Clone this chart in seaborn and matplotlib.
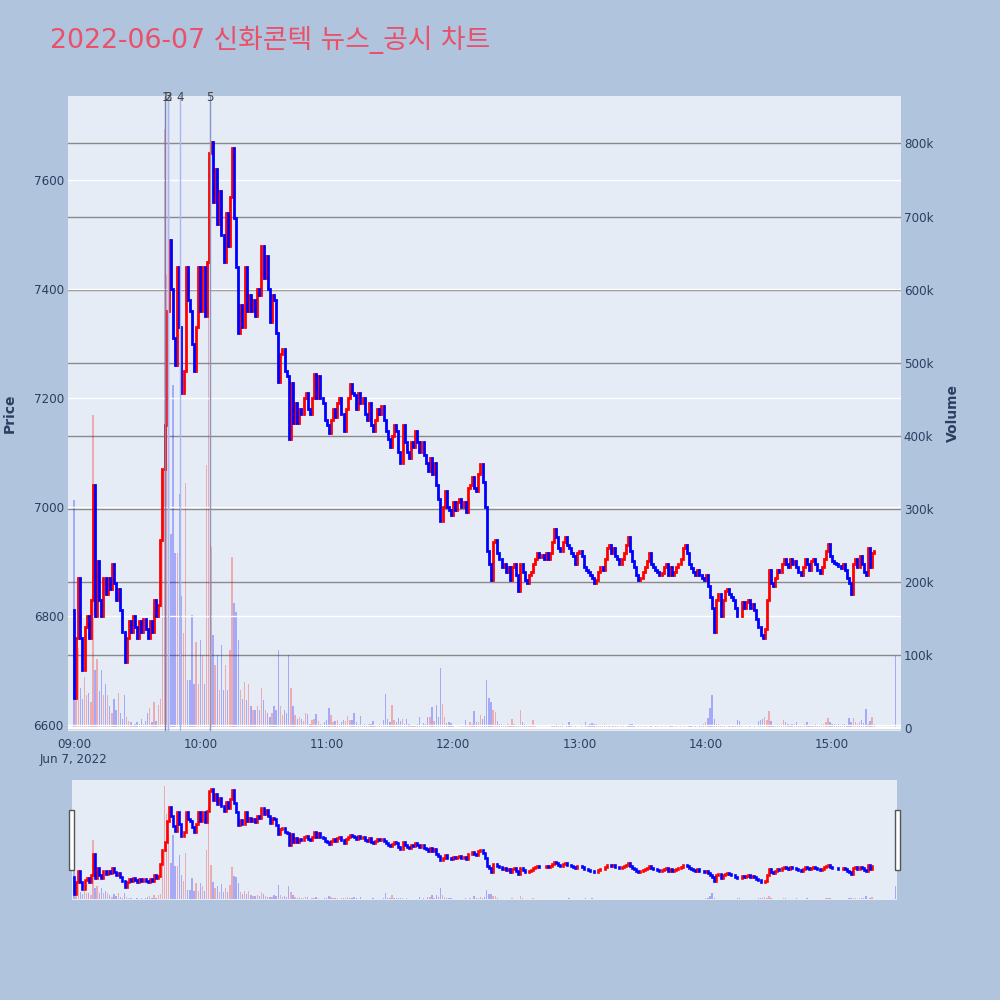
import numpy as np
import pandas as pd
import matplotlib
matplotlib.use("Agg")
import matplotlib.pyplot as plt
import matplotlib.transforms as mtransforms
from matplotlib.patches import Rectangle
import seaborn as sns

# ---- data (1-minute bars from 09:00, prices in KRW, volume in thousands) ----
first_open = 6810
closes = [
    6650, 6760, 6870, 6760, 6700, 6780, 6800, 6760, 6830, 7040,
    6800, 6900, 6830, 6800, 6870, 6840, 6870, 6850, 6895, 6860,
    6830, 6850, 6810, 6770, 6715, 6760, 6790, 6770, 6800, 6780,
    6760, 6790, 6770, 6795, 6775, 6760, 6790, 6770, 6830, 6800,
    6820, 6940, 7070, 7150, 7360, 7490, 7400, 7310, 7260, 7440,
    7330, 7210, 7250, 7440, 7380, 7360, 7300, 7250, 7330, 7440,
    7360, 7440, 7350, 7450, 7650, 7670, 7560, 7620, 7520, 7580,
    7500, 7450, 7540, 7480, 7570, 7660, 7530, 7440, 7320, 7370,
    7330, 7440, 7360, 7390, 7360, 7380, 7350, 7400, 7390, 7480,
    7420, 7460, 7400, 7340, 7390, 7380, 7320, 7230, 7280, 7290,
    7250, 7240, 7125, 7228, 7155, 7190, 7155, 7180, 7170, 7200,
    7210, 7180, 7170, 7200, 7245, 7200, 7240, 7200, 7190, 7160,
    7150, 7135, 7160, 7180, 7165, 7190, 7200, 7170, 7140, 7180,
    7200, 7225, 7210, 7205, 7180, 7210, 7190, 7200, 7170, 7160,
    7190, 7150, 7140, 7160, 7180, 7170, 7185, 7160, 7140, 7125,
    7110, 7130, 7150, 7140, 7100, 7080, 7150, 7120, 7100, 7090,
    7120, 7110, 7140, 7120, 7100, 7120, 7095, 7080, 7066, 7090,
    7060, 7080, 7040, 7015, 6975, 7000, 7030, 7000, 6995, 6985,
    7010, 6995, 7010, 7015, 7000, 7010, 6990, 7035, 7040, 7055,
    7035, 7030, 7060, 7078, 7045, 7000, 6920, 6895, 6865, 6935,
    6940, 6915, 6905, 6890, 6895, 6880, 6890, 6865, 6890, 6895,
    6875, 6845, 6895, 6880, 6865, 6860, 6875, 6880, 6895, 6905,
    6915, 6908, 6912, 6905, 6915, 6905, 6915, 6935, 6960, 6945,
    6925, 6920, 6935, 6945, 6930, 6925, 6915, 6910, 6895, 6915,
    6920, 6910, 6890, 6885, 6880, 6875, 6870, 6860, 6865, 6880,
    6890, 6885, 6905, 6925, 6930, 6915, 6925, 6910, 6905, 6895,
    6905, 6915, 6930, 6945, 6920, 6900, 6890, 6875, 6865, 6870,
    6880, 6890, 6900, 6915, 6895, 6890, 6885, 6880, 6875, 6878,
    6890, 6895, 6875, 6890, 6875, 6880, 6890, 6895, 6905, 6925,
    6930, 6915, 6895, 6888, 6880, 6875, 6885, 6875, 6870, 6865,
    6875, 6855, 6835, 6815, 6770, 6830, 6840, 6800, 6830, 6845,
    6850, 6840, 6835, 6830, 6815, 6800, 6800, 6825, 6815, 6825,
    6830, 6815, 6822, 6810, 6795, 6780, 6765, 6760, 6775, 6830,
    6885, 6860, 6855, 6870, 6885, 6880, 6895, 6905, 6895, 6890,
    6905, 6895, 6900, 6890, 6880, 6875, 6890, 6905, 6895, 6885,
    6900, 6905, 6895, 6885, 6878, 6890, 6905, 6920, 6932, 6910,
    6900, 6898, 6895, 6892, 6888, 6895, 6885, 6870, 6860, 6840,
    6895, 6905, 6890, 6910, 6895, 6880, 6875, 6925, 6890, 6915,
    6920,
]
volumes = [
    312, 70, 110, 55, 40, 70, 45, 48, 35, 428,
    80, 95, 50, 80, 45, 60, 45, 30, 20, 40,
    25, 48, 20, 12, 45, 15, 10, 8, 4, 5,
    8, 5, 12, 5, 10, 20, 28, 8, 35, 10,
    32, 40, 300, 820, 620, 470, 265, 470, 240, 240,
    320, 180, 130, 335, 66, 66, 154, 60, 118, 60,
    120, 100, 60, 360, 780, 248, 127, 86, 100, 52,
    113, 52, 86, 52, 107, 234, 171, 159, 120, 52,
    40, 63, 38, 60, 30, 25, 25, 30, 25, 55,
    38, 25, 20, 15, 20, 30, 25, 107, 30, 18,
    25, 20, 100, 55, 30, 18, 12, 15, 12, 10,
    20, 19, 6, 11, 13, 19, 10, 6, 4, 8,
    11, 27, 18, 8, 10, 11, 6, 8, 11, 9,
    16, 11, 11, 20, 8, 6, 17, 4, 5, 4,
    6, 5, 10, 3, 4, 6, 4, 11, 47, 13,
    8, 32, 11, 8, 14, 10, 12, 5, 13, 6,
    4, 4, 3, 5, 15, 4, 7, 5, 15, 15,
    29, 10, 32, 15, 82, 33, 15, 7, 8, 7,
    3, 1, 1, 2, 3, 4, 11, 4, 8, 5,
    23, 8, 8, 18, 13, 17, 66, 41, 36, 25,
    22, 9, 5, 6, 4, 4, 6, 3, 13, 6,
    4, 3, 25, 8, 6, 4, 3, 3, 11, 3,
    2, 1, 1, 1, 2, 1, 2, 3, 4, 6,
    3, 3, 6, 2, 4, 8, 3, 2, 3, 2,
    2, 3, 1, 8, 4, 6, 7, 5, 6, 4,
    3, 4, 5, 3, 4, 2, 3, 4, 3, 2,
    3, 4, 2, 3, 5, 6, 3, 2, 4, 3,
    2, 3, 4, 2, 3, 2, 3, 4, 2, 3,
    2, 3, 2, 4, 3, 2, 3, 2, 3, 2,
    3, 2, 4, 3, 2, 3, 2, 3, 4, 5,
    8, 14, 27, 45, 12, 6, 5, 3, 4, 3,
    2, 3, 2, 3, 4, 11, 10, 3, 2, 3,
    2, 3, 2, 3, 2, 9, 11, 13, 15, 11,
    23, 9, 4, 3, 5, 4, 6, 11, 8, 5,
    4, 6, 5, 8, 4, 3, 4, 5, 8, 4,
    3, 4, 5, 3, 4, 5, 6, 8, 14, 8,
    6, 5, 4, 6, 4, 5, 6, 4, 14, 8,
    14, 8, 6, 8, 11, 7, 26, 5, 10, 15,
    6,
]
# closing auction at 15:30
auction_minute = 390
auction_price = 6900
auction_volume = 98

# news / disclosure markers (minutes after 09:00)
news_minutes = [43.3, 44.6, 44.8, 50.3, 64.4]
news_labels = ["1", "2", "3", "4", "5"]
news_colors = ["#7d7fb4", "#9aa6e6", "#aab8f2", "#aab8f2", "#8797c4"]

tick_minutes = [0, 60, 120, 180, 240, 300, 360]
tick_labels = ["09:00\nJun 7, 2022", "10:00", "11:00", "12:00", "13:00", "14:00", "15:00"]
price_ticks = [6600, 6800, 7000, 7200, 7400, 7600]
volume_ticks = [0, 100, 200, 300, 400, 500, 600, 700, 800]
volume_tick_labels = ["0", "100k", "200k", "300k", "400k", "500k", "600k", "700k", "800k"]

title = "2022-06-07 신화콘텍 뉴스_공시 차트"

# ---- table ----
df = pd.DataFrame({
    "minute": np.arange(len(closes)),
    "open": [first_open] + closes[:-1],
    "close": closes,
    "volume": volumes,
})
df = pd.concat([df, pd.DataFrame({"minute": [auction_minute], "open": [auction_price],
                                  "close": [auction_price], "volume": [auction_volume]})],
               ignore_index=True)
df["dir"] = np.where(df["close"] > df["open"], "up", "down")
df["lo"] = df[["open", "close"]].min(axis=1)
df["hi"] = df[["open", "close"]].max(axis=1)

RED, BLUE = "#FF0000", "#0000FF"
BG, PLOT_BG = "#B0C4DE", "#E5ECF6"
TXT = "#2a3f5f"

sns.set_theme(style="white")
plt.rcParams["font.family"] = ["DejaVu Sans", "Noto Sans CJK KR"]

fig = plt.figure(figsize=(10, 10), dpi=100)
fig.patch.set_facecolor(BG)


def rect(x0, y0, x1, y1):
    return [x0 / 1000, 1 - y1 / 1000, (x1 - x0) / 1000, (y1 - y0) / 1000]


def draw_volume(ax):
    sns.histplot(data=df, x="minute", weights="volume", hue="dir", hue_order=["up", "down"],
                 palette={"up": RED, "down": BLUE}, discrete=True, shrink=0.65,
                 alpha=0.28, linewidth=0, legend=False, ax=ax)
    ax.set_xlabel("")
    ax.set_ylabel("")


def draw_candles(ax, lw):
    for d, c in [("up", RED), ("down", BLUE)]:
        sub = df[df["dir"] == d]
        lc = ax.vlines(sub["minute"], sub["lo"], sub["hi"], colors=c, linewidth=lw)
        lc.set_capstyle("projecting")


# ---- main panel ----
ax_v = fig.add_axes(rect(68, 96, 901, 731))
ax_v.set_facecolor(PLOT_BG)
draw_volume(ax_v)
ax_p = ax_v.twinx()

ax_v.set_xlim(-2.85, 392.7)
ax_v.set_ylim(-4.1, 865)
ax_v.yaxis.tick_right()
ax_v.set_yticks(volume_ticks)
ax_v.set_yticklabels(volume_tick_labels)
ax_v.set_xticks(tick_minutes)
ax_v.set_xticklabels(tick_labels)
ax_v.grid(axis="y", color="#8a8a8a", linewidth=1.0)
ax_v.grid(axis="x", visible=False)
ax_v.axhline(0, color="white", linewidth=1.6)
ax_v.tick_params(axis="y", length=0, pad=2, labelsize=8.6, labelcolor=TXT,
                 left=False, labelleft=False, right=True, labelright=True)
ax_v.tick_params(axis="x", length=0, pad=5, labelsize=8.6, labelcolor=TXT)

ax_p.set_axisbelow(True)
ax_p.set_ylim(6588.6, 7754.6)
ax_p.set_yticks(price_ticks)
ax_p.grid(axis="y", color="white", linewidth=1.0)
ax_p.tick_params(axis="y", length=0, pad=3, labelsize=8.6, labelcolor=TXT,
                 left=True, labelleft=True, right=False, labelright=False)
draw_candles(ax_p, 2.0)

trans = mtransforms.blended_transform_factory(ax_p.transData, ax_p.transAxes)
for m, lab, col in zip(news_minutes, news_labels, news_colors):
    ax_p.axvline(m, color=col, linewidth=1.0)
    ax_p.text(m, 1 - 5 / 635, lab, transform=trans, ha="center", va="baseline",
              fontsize=8.6, color="#444444")

for a in (ax_v, ax_p):
    for s in a.spines.values():
        s.set_visible(False)

# ---- range slider ----
ax_sv = fig.add_axes(rect(72, 780, 897, 900))
ax_sv.set_facecolor(PLOT_BG)
draw_volume(ax_sv)
ax_sv.set_xlim(-0.95, 390.8)
ax_sv.set_ylim(-4.1, 865)
ax_sp = ax_sv.twinx()
ax_sp.set_ylim(6588.6, 7754.6)
draw_candles(ax_sp, 1.9)
for a in (ax_sv, ax_sp):
    a.set_xticks([])
    a.set_yticks([])
    a.grid(False)
    for s in a.spines.values():
        s.set_visible(False)

for x0, x1 in [(68.5, 73.5), (894.5, 899.5)]:
    fig.add_artist(Rectangle((x0 / 1000, 1 - 870 / 1000), (x1 - x0) / 1000, 60 / 1000,
                             transform=fig.transFigure, facecolor="white",
                             edgecolor="#555555", linewidth=1.0))

# ---- text ----
fig.text(50 / 1000, 1 - 40 / 1000, title, fontsize=19.3, color="#E9506A",
         ha="left", va="center")
fig.text(10 / 1000, 1 - 413 / 1000, "Price", rotation=90, fontsize=10, fontweight="bold",
         color=TXT, ha="center", va="center")
fig.text(953 / 1000, 1 - 413 / 1000, "Volume", rotation=90, fontsize=10, fontweight="bold",
         color=TXT, ha="center", va="center")

fig.savefig("out.png", dpi=100, facecolor=fig.get_facecolor())
